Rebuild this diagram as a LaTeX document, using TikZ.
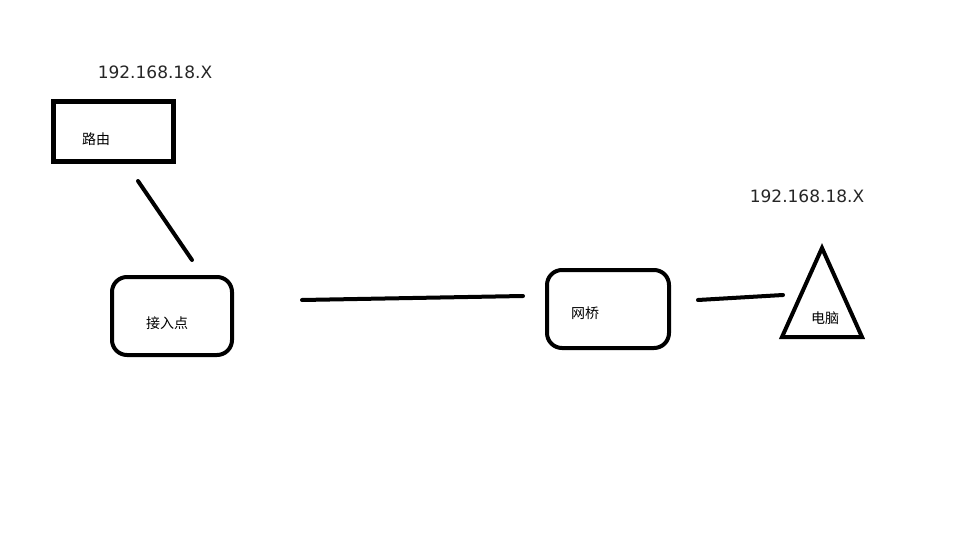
\documentclass[tikz,border=0pt]{standalone}
\usepackage{fontspec}
\setmainfont{Noto Sans CJK SC}
\newfontfamily\addrfont{DejaVu Sans}
\usetikzlibrary{positioning}

\begin{document}
\begin{tikzpicture}[x=1pt, y=-1pt, every node/.style={font=\fontsize{14}{16}\selectfont}]
        \tikzset{
          devbox/.style={draw, line width=5pt, minimum width=#1, inner sep=0pt},
          roundbox/.style={draw, line width=4pt, rounded corners=15pt, inner sep=0pt},
          cable/.style={line width=4pt, line cap=round},
          addr/.style={font=\addrfont\fontsize{17}{19}\selectfont, text=black!85}
        }
        \useasboundingbox[fill=white] (0,0) rectangle (960,540);
        % router
        \node[devbox=120pt, minimum height=60pt] (router) at (113,132) {};
        \node (routertxt) at (96,139) {路由};
        \node[addr] (ipa) at (155,72) {192.168.18.X};
        % access point
        \node[roundbox, minimum width=120pt, minimum height=78pt] (ap) at (172,316) {};
        \node (aptxt) at (167,323) {接入点};
        % bridge
        \node[roundbox, minimum width=122pt, minimum height=78pt] (bridge) at (608,309) {};
        \node (bridgetxt) at (585,313) {网桥};
        % computer
        \coordinate (pctop) at (822,248);
        \coordinate (pcleft) at (782,337);
        \coordinate (pcright) at (862,337);
        \draw[line width=4pt, line join=miter] (pctop) -- (pcleft) -- (pcright) -- cycle;
        \node (pctxt) at (825,318) {电脑};
        \node[addr] (ipb) at (807,196) {192.168.18.X};
        % links (free ends)
        \coordinate (l1a) at (138,181);
        \coordinate (l1b) at (192,260);
        \coordinate (l2a) at (302,300);
        \coordinate (l2b) at (523,296);
        \coordinate (l3a) at (698,300);
        \coordinate (l3b) at (783,295);
        \draw[cable] (l1a) -- (l1b);
        \draw[cable] (l2a) -- (l2b);
        \draw[cable] (l3a) -- (l3b);
      \end{tikzpicture}
\end{document}
